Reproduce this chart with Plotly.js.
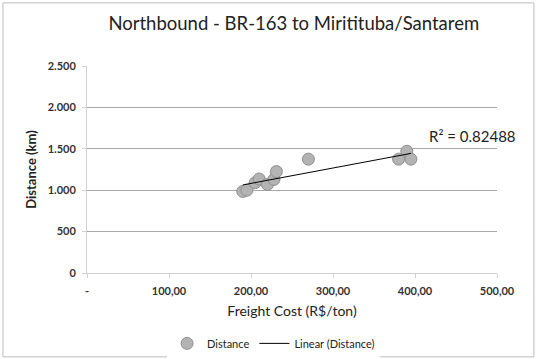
<!DOCTYPE html>
<html>
<head>
<meta charset="utf-8">
<script src="https://cdn.plot.ly/plotly-3.0.1.min.js"></script>
<style>html,body{margin:0;padding:0;background:#fff;}#chart{width:539px;height:359px;}</style>
</head>
<body>
<div id="chart"></div>
<script>
// Data
const freightCost = [190, 195, 205, 210, 220, 228, 231, 270, 380, 390, 395];
const distanceKm = [985, 1000, 1090, 1135, 1070, 1130, 1225, 1375, 1375, 1470, 1375];
const xTickVals = [0, 100, 200, 300, 400, 500];
const xTickText = ['-', '100,00', '200,00', '300,00', '400,00', '500,00'];
const yTickVals = [0, 500, 1000, 1500, 2000, 2500];
const yTickText = ['0', '500', '1.000', '1.500', '2.000', '2.500'];
const r2Label = 'R² = 0.82488';
const chartTitle = 'Northbound - BR-163 to Miritituba/Santarem';

// Least-squares linear trendline (as Excel does)
const n = freightCost.length;
const mx = freightCost.reduce((a, b) => a + b, 0) / n;
const my = distanceKm.reduce((a, b) => a + b, 0) / n;
let sxy = 0, sxx = 0;
for (let i = 0; i < n; i++) { sxy += (freightCost[i] - mx) * (distanceKm[i] - my); sxx += (freightCost[i] - mx) ** 2; }
const slope = sxy / sxx, intercept = my - slope * mx;
const xMin = Math.min(...freightCost), xMax = Math.max(...freightCost);
const trendX = [xMin, xMax];
const trendY = trendX.map(x => intercept + slope * x);

const font = 'Lato, "Open Sans", sans-serif';

const data = [
  {
    x: freightCost, y: distanceKm, type: 'scatter', mode: 'markers', name: 'Distance',
    marker: {size: 12, color: '#b3b3b3', line: {color: '#8f8f8f', width: 1}}
  },
  {
    x: trendX, y: trendY, type: 'scatter', mode: 'lines', name: 'Linear (Distance)',
    line: {color: '#000000', width: 1}
  }
];

const layout = {
  width: 539, height: 359,
  margin: {l: 87, r: 42, t: 66, b: 86, autoexpand: false},
  paper_bgcolor: '#ffffff', plot_bgcolor: '#ffffff',
  font: {family: font, color: '#404040'},
  title: {text: chartTitle, font: {family: font, size: 18.5, color: '#222222'}, x: 0.545, xanchor: 'center', y: 0.935, yanchor: 'middle'},
  showlegend: true,
  legend: {orientation: 'h', x: 0.455, xanchor: 'center', y: -0.34, yanchor: 'middle', font: {family: font, size: 11, color: '#222222'}, itemwidth: 30},
  xaxis: {
    range: [0, 500], tickvals: xTickVals, ticktext: xTickText,
    showgrid: false, zeroline: false, showline: true, linecolor: '#d0d0d0', linewidth: 1,
    ticks: 'outside', ticklen: 4, tickcolor: '#d0d0d0', ticklabelstandoff: 4,
    tickfont: {family: font, size: 11, color: '#333333', weight: 'bold'},
    title: {text: 'Freight Cost (R$/ton)', font: {family: font, size: 14, color: '#222222'}, standoff: 9},
    fixedrange: true
  },
  yaxis: {
    range: [0, 2500], tickvals: yTickVals, ticktext: yTickText,
    showgrid: true, gridcolor: '#a8a8a8', gridwidth: 1, zeroline: false,
    showline: true, linecolor: '#d0d0d0', linewidth: 1,
    ticks: 'outside', ticklen: 4, tickcolor: '#d0d0d0', ticklabelstandoff: 4,
    tickfont: {family: font, size: 11, color: '#333333', weight: 'bold'},
    title: {text: 'Distance (km)', font: {family: font, size: 13, color: '#222222', weight: 'bold'}, standoff: 8},
    fixedrange: true
  },
  annotations: [
    {text: r2Label, xref: 'paper', yref: 'paper', x: 0.83, y: 0.66, xanchor: 'left', yanchor: 'middle', showarrow: false, font: {family: font, size: 15, color: '#222222'}}
  ],
  shapes: [
    {type: 'rect', xref: 'paper', yref: 'paper', x0: -0.205, x1: 1.09, y0: -0.405, y1: 1.305, line: {color: '#bdbdbd', width: 1}, fillcolor: 'rgba(0,0,0,0)', layer: 'below'}
  ]
};

Plotly.newPlot('chart', data, layout, {staticPlot: true, displayModeBar: false});
</script>
</body>
</html>
